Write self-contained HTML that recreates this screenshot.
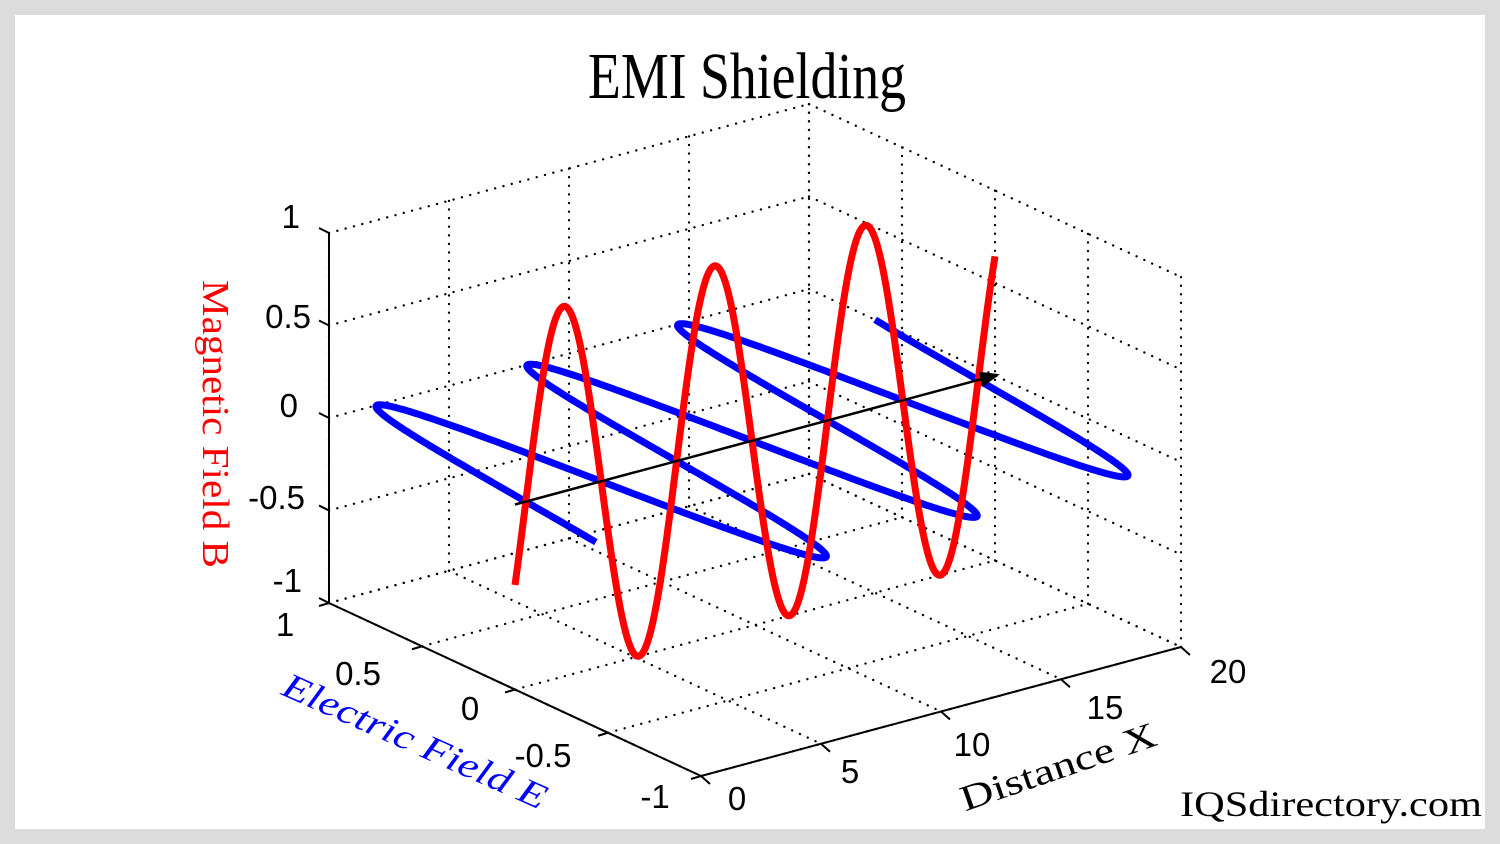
<!DOCTYPE html>
<html><head><meta charset="utf-8"><style>
html,body{margin:0;padding:0;background:#dcdcdc;}
#wrap{position:absolute;left:0;top:0;width:1500px;height:844px;background:#dcdcdc;}
svg{position:absolute;left:0;top:0;}
</style></head><body><div id="wrap">
<svg id="s" width="1500" height="844" viewBox="0 0 1500 844" xmlns="http://www.w3.org/2000/svg">
<rect x="15" y="15" width="1470" height="814" fill="#fff"/>
<g id="grid" stroke="#000" stroke-width="2.3" stroke-linecap="round" stroke-dasharray="0.1 8.5" fill="none"></g>
<g id="axes" stroke="#000" stroke-width="2" fill="none"></g>
<path id="blue" fill="none" stroke="#0000ff" stroke-width="7" stroke-linejoin="round"/>
<path id="red" fill="none" stroke="#ff0000" stroke-width="7" stroke-linejoin="round"/>
<line id="arr" stroke="#000" stroke-width="2.5"/>
<polygon id="head" fill="#000"/>
<g font-family="Liberation Sans, sans-serif" font-size="33" fill="#000">
<text x="300" y="228" text-anchor="end">1</text>
<text x="311" y="328" text-anchor="end">0.5</text>
<text x="298" y="417" text-anchor="end">0</text>
<text x="305" y="509" text-anchor="end">-0.5</text>
<text x="302" y="592" text-anchor="end">-1</text>
<text x="285" y="636" text-anchor="middle">1</text>
<text x="358" y="685" text-anchor="middle">0.5</text>
<text x="470" y="720" text-anchor="middle">0</text>
<text x="543" y="767" text-anchor="middle">-0.5</text>
<text x="655" y="808" text-anchor="middle">-1</text>
<text x="737" y="810" text-anchor="middle">0</text>
<text x="850" y="783" text-anchor="middle">5</text>
<text x="972" y="756" text-anchor="middle">10</text>
<text x="1105" y="719" text-anchor="middle">15</text>
<text x="1228" y="683" text-anchor="middle">20</text>
</g>
<text x="747" y="98" text-anchor="middle" font-family="Liberation Serif, serif" font-size="66" textLength="318" lengthAdjust="spacingAndGlyphs">EMI Shielding</text>
<text transform="translate(203,424) rotate(90)" text-anchor="middle" font-family="Liberation Serif, serif" font-size="38" fill="#ff0000" textLength="288" lengthAdjust="spacingAndGlyphs">Magnetic Field B</text>
<text transform="translate(410,752) rotate(24)" text-anchor="middle" font-family="Liberation Serif, serif" font-style="italic" font-size="36" fill="#0000ff" textLength="285" lengthAdjust="spacingAndGlyphs">Electric Field E</text>
<text transform="translate(1062,778) rotate(-19)" text-anchor="middle" font-family="Liberation Serif, serif" font-size="36" fill="#000" textLength="205" lengthAdjust="spacingAndGlyphs">Distance X</text>
<text x="1482" y="816" text-anchor="end" font-family="Liberation Serif, serif" font-size="36" fill="#000" textLength="302" lengthAdjust="spacingAndGlyphs">IQSdirectory.com</text>
</svg>
<script>
function P(x,y,z){return [515+24*x-186*y, 504.5-6.45*x-86.5*y-185*z];}
var ns="http://www.w3.org/2000/svg";
function ln(g,a,b){var l=document.createElementNS(ns,"line");l.setAttribute("x1",a[0]);l.setAttribute("y1",a[1]);l.setAttribute("x2",b[0]);l.setAttribute("y2",b[1]);g.appendChild(l);}
var G=document.getElementById("grid");
var zs=[-1,-0.5,0,0.5,1],ys=[-1,-0.5,0,0.5,1],xs=[0,5,10,15,20];
xs.forEach(function(x){ln(G,P(x,1,-1),P(x,1,1));});
zs.forEach(function(z){ln(G,P(0,1,z),P(20,1,z));});
ys.forEach(function(y){ln(G,P(20,y,-1),P(20,y,1));});
zs.forEach(function(z){ln(G,P(20,1,z),P(20,-1,z));});
ys.forEach(function(y){ln(G,P(0,y,-1),P(20,y,-1));});
xs.forEach(function(x){ln(G,P(x,1,-1),P(x,-1,-1));});
var A=document.getElementById("axes");
ln(A,P(0,1,-1),P(0,1,1));
ln(A,P(0,1,-1),P(0,-1,-1));
ln(A,P(0,-1,-1),P(20,-1,-1));
zs.forEach(function(z){var p=P(0,1,z);ln(A,p,[p[0]-10,p[1]-5]);});
ys.forEach(function(y){var p=P(0,y,-1);ln(A,p,[p[0]-10,p[1]+3]);});
xs.forEach(function(x){var p=P(x,-1,-1);ln(A,p,[p[0]+9,p[1]+8]);});
var r="",b="";
for(var i=0;i<=800;i++){var x=20*i/800,s=Math.sin(x-0.45);
var pr=P(x,0,s),pb=P(x,s,0);
r+=(i?"L":"M")+pr[0].toFixed(1)+" "+pr[1].toFixed(1);
b+=(i?"L":"M")+pb[0].toFixed(1)+" "+pb[1].toFixed(1);}
document.getElementById("red").setAttribute("d",r);
document.getElementById("blue").setAttribute("d",b);
var a0=P(0,0,0),a1=P(19.4,0,0),a2=P(20.2,0,0);
var L=document.getElementById("arr");L.setAttribute("x1",a0[0]);L.setAttribute("y1",a0[1]);L.setAttribute("x2",a1[0]);L.setAttribute("y2",a1[1]);
var dx=a2[0]-a1[0],dy=a2[1]-a1[1],n=Math.hypot(dx,dy),ux=dx/n,uy=dy/n;
document.getElementById("head").setAttribute("points",
a2[0]+","+a2[1]+" "+(a1[0]-uy*8)+","+(a1[1]+ux*8)+" "+(a1[0]+uy*8)+","+(a1[1]-ux*8));
</script>
</div></body></html>
